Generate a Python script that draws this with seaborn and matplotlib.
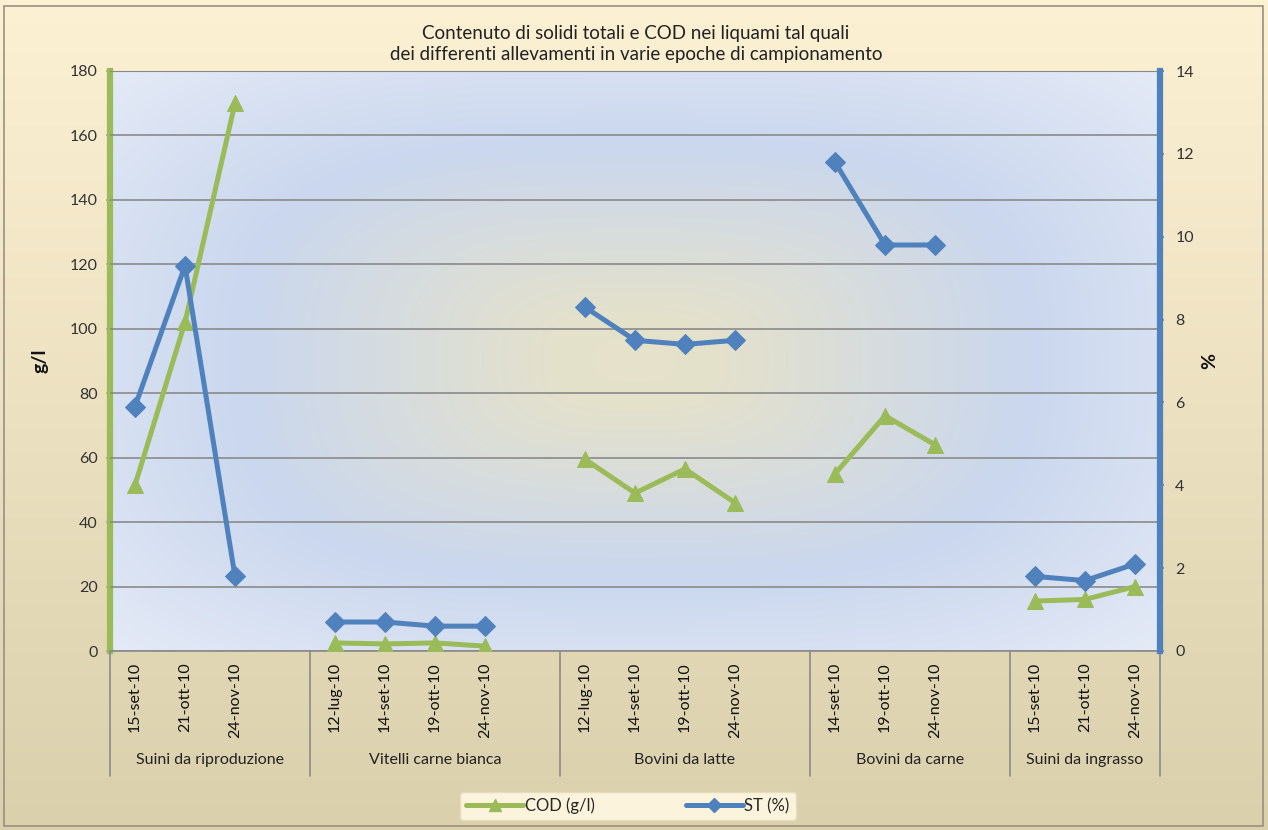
import numpy as np
import pandas as pd
import matplotlib
matplotlib.use("Agg")
import matplotlib.pyplot as plt
import seaborn as sns
from matplotlib.lines import Line2D
from matplotlib.patches import Rectangle
import matplotlib.transforms as mtransforms

# data
groups = ["Suini da riproduzione", "Vitelli carne bianca", "Bovini da latte",
          "Bovini da carne", "Suini da ingrasso"]
dates = [
    ["15-set-10", "21-ott-10", "24-nov-10"],
    ["12-lug-10", "14-set-10", "19-ott-10", "24-nov-10"],
    ["12-lug-10", "14-set-10", "19-ott-10", "24-nov-10"],
    ["14-set-10", "19-ott-10", "24-nov-10"],
    ["15-set-10", "21-ott-10", "24-nov-10"],
]
cod = [
    [51.5, 102, 170],
    [2.5, 2.2, 2.5, 1.5],
    [59.5, 49, 56.5, 46],
    [55, 73, 64],
    [15.5, 16, 20],
]
st = [
    [5.9, 9.3, 1.8],
    [0.7, 0.7, 0.6, 0.6],
    [8.3, 7.5, 7.4, 7.5],
    [11.8, 9.8, 9.8],
    [1.8, 1.7, 2.1],
]

green = "#9bbb59"
blue = "#4f81bd"

# long table, with one empty slot after each group (as in the original sheet)
rows = []
bounds = [-0.5]
pos = 0
for g, ds, cs, ss in zip(groups, dates, cod, st):
    for d, c, s in zip(ds, cs, ss):
        rows.append({"pos": pos, "group": g, "date": d, "cod": c, "st": s})
        pos += 1
    if g != groups[-1]:
        pos += 1
    bounds.append(pos - 0.5)
df = pd.DataFrame(rows)
n_slots = pos

sns.set_style("white")
plt.rcParams["font.family"] = ["Lato", "DejaVu Sans"]

W, H = 1268, 830
fig = plt.figure(figsize=(W / 100, H / 100), dpi=100)

# outer background
bg = fig.add_axes([0, 0, 1, 1], zorder=-10)
grad = np.linspace(0, 1, 256)[:, None]
top_c = np.array([253, 241, 212]) / 255
bot_c = np.array([218, 208, 172]) / 255
img = top_c[None, None, :] * (1 - grad[..., None]) + bot_c[None, None, :] * grad[..., None]
bg.imshow(np.repeat(img, 2, axis=1), aspect="auto", extent=[0, 1, 0, 1])
bg.add_patch(Rectangle((4 / W, 4 / H), 1 - 9 / W, 1 - 10 / H, fill=False,
                       edgecolor="#9a9080", lw=1.2))
bg.set_xlim(0, 1)
bg.set_ylim(0, 1)
bg.axis("off")

ax = fig.add_axes([110 / W, 1 - 651 / H, 1050 / W, 580 / H])

# soft, rectangular-ish gradient from the centre of the plot area
yy, xx = np.mgrid[0:1:200j, 0:1:300j]
p = 3.0
r = ((np.abs(xx - 0.5) * 2) ** p + (np.abs(yy - 0.5) * 2) ** p) ** (1 / p)
r = np.clip(r, 0, 1.25)
stops_r = [0.0, 0.15, 0.75, 1.25]
stops_c = np.array([[230, 226, 202], [228, 225, 204], [202, 215, 238], [228, 234, 246]]) / 255
pa = np.stack([np.interp(r, stops_r, stops_c[:, k]) for k in range(3)], axis=-1)
ax.imshow(pa, aspect="auto", extent=[-0.5, n_slots - 0.5, 0, 180], zorder=0)

sns.lineplot(data=df, x="pos", y="cod", units="group", estimator=None,
             color=green, marker="^", markersize=12, markeredgecolor=green,
             linewidth=3.6, ax=ax, legend=False, zorder=3)

ax.set_xlim(-0.5, n_slots - 0.5)
ax.set_ylim(0, 180)
ax.set_yticks(range(0, 181, 20))
ax.grid(axis="y", color="#8a8a8a", lw=1.2)
ax.grid(axis="x", visible=False)
ax.set_axisbelow(False)
for gl in ax.get_ygridlines():
    gl.set_zorder(1)
ax.set_xticks(df["pos"])
ax.set_xticklabels(df["date"], rotation=90, fontsize=11.5, color="#111111")
ax.tick_params(axis="x", length=0, pad=8)
ax.tick_params(axis="y", length=3, width=1.2, color=green, labelsize=11.5,
               labelcolor="#333333", pad=6, direction="out", left=True)
ax.set_xlabel("")
ax.set_ylabel("")
ax.spines["left"].set_color(green)
ax.spines["left"].set_linewidth(4.5)
ax.spines["bottom"].set_color("#8a8a8a")
ax.spines["bottom"].set_linewidth(1.2)
ax.spines["top"].set_color("#8a8a8a")
ax.spines["right"].set_visible(False)

ax2 = ax.twinx()
sns.lineplot(data=df, x="pos", y="st", units="group", estimator=None,
             color=blue, marker="D", markersize=10, markeredgecolor=blue,
             linewidth=3.6, ax=ax2, legend=False, zorder=4)
ax2.set_ylim(0, 14)
ax2.set_yticks(range(0, 15, 2))
ax2.set_ylabel("")
ax2.grid(False)
ax2.tick_params(axis="y", length=3, width=1.2, color=blue, labelsize=11.5,
                labelcolor="#333333", pad=8, direction="out", right=True)
for s in ["left", "top", "bottom"]:
    ax2.spines[s].set_visible(False)
ax2.spines["right"].set_color(blue)
ax2.spines["right"].set_linewidth(4.5)

# group dividers and names under the dates
trans = mtransforms.blended_transform_factory(ax.transData, ax.transAxes)
for b in bounds:
    ax.plot([b, b], [0, -0.215], transform=trans, color="#8a8a8a", lw=1.2,
            clip_on=False, zorder=5)
for i, g in enumerate(groups):
    ax.text((bounds[i] + bounds[i + 1]) / 2, -0.188, g, transform=trans,
            ha="center", va="center", fontsize=11.5, color="#222222")

fig.text(40 / W, 1 - 361 / H, "g/l", rotation=90, ha="center", va="center",
         fontsize=14, fontweight="bold", color="#111111")
fig.text(1210 / W, 1 - 361 / H, "%", rotation=90, ha="center", va="center",
         fontsize=14, fontweight="bold", color="#111111")
fig.text(636 / W, 1 - 44 / H,
         "Contenuto di solidi totali e COD nei liquami tal quali\n"
         "dei differenti allevamenti in varie epoche di campionamento",
         ha="center", va="center", fontsize=13.5, color="#222222", linespacing=1.25)

handles = [
    Line2D([], [], color=green, lw=3.6, marker="^", markersize=9, markeredgecolor=green),
    Line2D([], [], color=blue, lw=3.6, marker="D", markersize=7, markeredgecolor=blue),
]
leg = fig.legend(handles, ["COD (g/l)", "ST (%)"], loc="center",
                 bbox_to_anchor=(628 / W, 1 - 806 / H), ncol=2, frameon=True,
                 fontsize=12, handlelength=3.4, handletextpad=0.1, columnspacing=5.5,
                 borderpad=0.35, borderaxespad=0)
leg.get_frame().set_facecolor("#fbf3dc")
leg.get_frame().set_edgecolor("#e6dcc0")
leg.get_frame().set_alpha(1)

fig.savefig("out.png", dpi=100)
